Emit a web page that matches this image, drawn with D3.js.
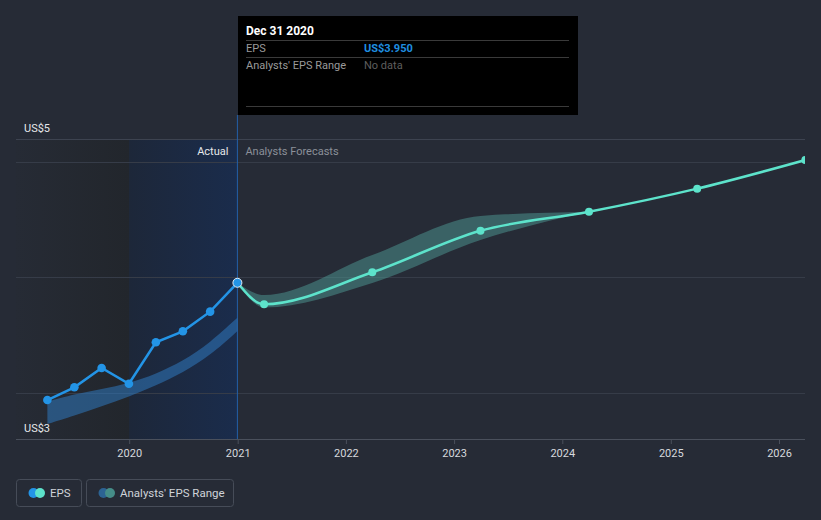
<!DOCTYPE html>
<html><head><meta charset="utf-8">
<script src="https://cdn.jsdelivr.net/npm/d3@7"></script>
<style>
html,body{margin:0;padding:0;background:#262b36;}
svg{display:block;font-family:Roboto,"Open Sans",sans-serif;}
</style></head>
<body><svg id="c" width="821" height="520"></svg>
<script>
// ---- data ----
const histDates = ["2019-03-31","2019-06-30","2019-09-30","2019-12-31","2020-03-31","2020-06-30","2020-09-30","2020-12-31"];
const histEPS   = [2.935, 3.045, 3.212, 3.076, 3.435, 3.530, 3.700, 3.950];
const histLow   = [2.727, 2.800, 2.880, 2.964, 3.060, 3.170, 3.320, 3.532];
const histHigh  = [2.920, 2.985, 3.030, 3.080, 3.160, 3.270, 3.430, 3.648];
const fcDates   = ["2020-12-31","2021-03-31","2022-03-31","2023-03-31","2024-03-31","2025-03-31","2026-03-31"];
const fcEPS     = [3.950, 3.764, 4.041, 4.401, 4.565, 4.765, 5.013];
const fcBandDates = ["2020-12-31","2021-03-31","2022-03-31","2023-03-31","2024-03-31"];
const fcLow     = [3.950, 3.736, 3.948, 4.320, 4.565];
const fcHigh    = [3.950, 3.844, 4.190, 4.528, 4.565];
const yTickValues = [3, 4, 5];
const yLabels = ["US$5", "US$3"];
const xTickYears = [2020, 2021, 2022, 2023, 2024, 2025, 2026];
const tooltipTitle = "Dec 31 2020";
const tooltipRows = [["EPS", "US$3.950"], ["Analysts' EPS Range", "No data"]];
const legendItems = ["EPS", "Analysts' EPS Range"];

(function(){
const pd = d3.timeParse("%Y-%m-%d");
const svg = d3.select("#c");
const L = 16, R = 805, T = 139, B = 439;
const x = d3.scaleTime().domain([new Date(2020,0,1), new Date(2026,0,1)]).range([129.2, 779]);
const y = d3.scaleLinear().domain([3, 4]).range([392.5, 277]);
const xNow = x(pd("2020-12-31"));

const defs = svg.append("defs");
const g1 = defs.append("linearGradient").attr("id","pastG").attr("x1","0").attr("x2","1");
g1.append("stop").attr("offset","0").attr("stop-color","#262b35");
g1.append("stop").attr("offset","1").attr("stop-color","#22262c");
const g2 = defs.append("linearGradient").attr("id","actG").attr("x1","0").attr("x2","1");
g2.append("stop").attr("offset","0").attr("stop-color","#1d2739");
g2.append("stop").attr("offset","1").attr("stop-color","#1a2c4c");
defs.append("clipPath").attr("id","clip").append("rect")
  .attr("x",L).attr("y",0).attr("width",R-L).attr("height",B);

// background regions
const x2020 = x(new Date(2020,0,1));
svg.append("rect").attr("x",L).attr("y",T).attr("width",x2020-L).attr("height",B-T).attr("fill","url(#pastG)");
svg.append("rect").attr("x",x2020).attr("y",T).attr("width",xNow-x2020).attr("height",B-T).attr("fill","url(#actG)");

// gridlines
svg.append("line").attr("x1",L).attr("x2",R).attr("y1",T+0.5).attr("y2",T+0.5).attr("stroke","#3d4350");
svg.selectAll(".grid").data(yTickValues).join("line")
  .attr("x1",L).attr("x2",R)
  .attr("y1",d=>Math.round(y(d))+0.5).attr("y2",d=>Math.round(y(d))+0.5)
  .attr("stroke","#363c48");

// x axis
const xAxis = d3.axisBottom(x).tickValues(xTickYears.map(v=>new Date(v,0,1)))
  .tickFormat(d3.timeFormat("%Y")).tickSize(5).tickSizeOuter(0);
const ax = svg.append("g").attr("transform",`translate(0,${B})`).call(xAxis);
ax.select(".domain").attr("d",`M${L},0.5H${R}`).attr("stroke","#4a505c");
ax.selectAll(".tick line").attr("stroke","#4a505c");
ax.selectAll(".tick text").attr("fill","#d6d9de").attr("font-size",11).attr("dy","0.95em")
  .attr("font-family","Roboto,sans-serif");

// y labels
svg.append("text").attr("x",24).attr("y",132).text(yLabels[0]).attr("fill","#e6e8eb").attr("font-size",11);
svg.append("text").attr("x",24).attr("y",432).text(yLabels[1]).attr("fill","#e6e8eb").attr("font-size",11);

// now line
svg.append("line").attr("x1",xNow).attr("x2",xNow).attr("y1",115).attr("y2",B)
  .attr("stroke","#2360a8").attr("stroke-width",1);

svg.append("text").attr("x",xNow-9).attr("y",155).attr("text-anchor","end")
  .attr("fill","#e6e8eb").attr("font-size",11).text("Actual");
svg.append("text").attr("x",xNow+8).attr("y",155)
  .attr("fill","#8b9099").attr("font-size",11).text("Analysts Forecasts");

const plot = svg.append("g").attr("clip-path","url(#clip)");

// historical band
const hist = histDates.map((d,i)=>({d:pd(d), v:histEPS[i], lo:histLow[i], hi:histHigh[i]}));
plot.append("path").datum(hist)
  .attr("d", d3.area().x(d=>x(d.d)).y0(d=>y(d.lo)).y1(d=>y(d.hi)).curve(d3.curveBasis))
  .attr("fill","#2f78be").attr("opacity",0.55);

// forecast band
const fb = fcBandDates.map((d,i)=>({d:pd(d), lo:fcLow[i], hi:fcHigh[i]}));
plot.append("path").datum(fb)
  .attr("d", d3.area().x(d=>x(d.d)).y0(d=>y(d.lo)).y1(d=>y(d.hi)).curve(d3.curveMonotoneX))
  .attr("fill","#4e9a94").attr("opacity",0.5);

// forecast line
const fc = fcDates.map((d,i)=>({d:pd(d), v:fcEPS[i]}));
plot.append("path").datum(fc)
  .attr("d", d3.line().x(d=>x(d.d)).y(d=>y(d.v)).curve(d3.curveMonotoneX))
  .attr("fill","none").attr("stroke","#5de3cb").attr("stroke-width",2.5);
plot.selectAll(".fcp").data(fc.slice(1)).join("circle")
  .attr("cx",d=>x(d.d)).attr("cy",d=>y(d.v)).attr("r",4).attr("fill","#5de3cb");

// historical line
plot.append("path").datum(hist)
  .attr("d", d3.line().x(d=>x(d.d)).y(d=>y(d.v)))
  .attr("fill","none").attr("stroke","#2394e6").attr("stroke-width",2.5);
plot.selectAll(".hp").data(hist.slice(0,-1)).join("circle")
  .attr("cx",d=>x(d.d)).attr("cy",d=>y(d.v)).attr("r",4.3).attr("fill","#2394e6");
const last = hist[hist.length-1];
plot.append("circle").attr("cx",x(last.d)).attr("cy",y(last.v)).attr("r",4.5)
  .attr("fill","#2394e6").attr("stroke","#e8eef5").attr("stroke-width",1);

// tooltip
const tt = svg.append("g").attr("transform","translate(238,16)");
tt.append("rect").attr("width",340).attr("height",99).attr("fill","#000");
tt.append("text").attr("x",8).attr("y",19).attr("fill","#fff").attr("font-size",12).attr("font-weight","bold").text(tooltipTitle);
[24,41,90].forEach(yy=>tt.append("line").attr("x1",8).attr("x2",331).attr("y1",yy+0.5).attr("y2",yy+0.5).attr("stroke","#3a3a3a"));
tt.append("text").attr("x",8).attr("y",36).attr("fill","#9a9a9a").attr("font-size",11).text(tooltipRows[0][0]);
tt.append("text").attr("x",126).attr("y",36).attr("fill","#1f8fe0").attr("font-size",11).attr("font-weight","bold").text(tooltipRows[0][1]);
tt.append("text").attr("x",8).attr("y",53).attr("fill","#9a9a9a").attr("font-size",11).text(tooltipRows[1][0]);
tt.append("text").attr("x",126).attr("y",53).attr("fill","#5e5e5e").attr("font-size",11).text(tooltipRows[1][1]);

// legend
const lg = svg.append("g");
const boxes = [{x:16.5,w:65,c1:"#2394e6",c2:"#5de3cb",tx:50},{x:86.5,w:147,c1:"#2c6393",c2:"#458d88",tx:120}];
boxes.forEach((b,i)=>{
  lg.append("rect").attr("x",b.x).attr("y",479.5).attr("width",b.w).attr("height",27).attr("rx",3)
    .attr("fill","none").attr("stroke","#464c58");
  lg.append("circle").attr("cx",b.x+17).attr("cy",493).attr("r",5).attr("fill",b.c1);
  lg.append("circle").attr("cx",b.x+23.5).attr("cy",493).attr("r",5).attr("fill",b.c2);
  lg.append("text").attr("x",b.tx).attr("y",497).attr("fill","#cfd3d9").attr("font-size",11.5).text(legendItems[i]);
});
})();
</script></body></html>
